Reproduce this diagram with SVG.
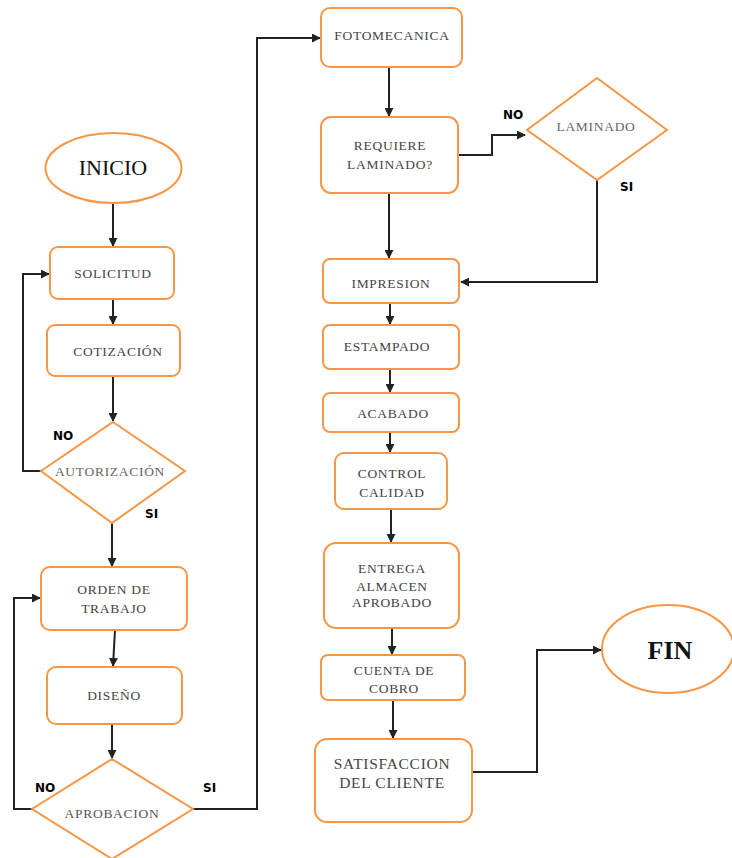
<svg xmlns="http://www.w3.org/2000/svg" width="732" height="858" viewBox="0 0 732 858">
<defs>
<marker id="ah" viewBox="0 0 10 10" refX="9" refY="5" markerWidth="4.5" markerHeight="4.5" orient="auto">
<path d="M0,0 L10,5 L0,10 z" fill="#222"/>
</marker>
<style>
.n{fill:#fff;stroke:#F79646;stroke-width:2}
.t{font-family:"Liberation Serif",serif;font-size:13.5px;letter-spacing:0.7px;fill:#444;text-anchor:middle}
.c{fill:none;stroke:#222;stroke-width:2;marker-end:url(#ah)}
.l{font-family:"DejaVu Sans",sans-serif;font-weight:bold;font-size:12px;fill:#000}
</style>
</defs>
<rect width="732" height="858" fill="#fff"/>
<g id="connectors">
<path class="c" d="M113,203 V246"/>
<path class="c" d="M113,299 V324"/>
<path class="c" d="M113,376 V421"/>
<path class="c" d="M41,471 H23 V274 H49"/>
<path class="c" d="M112,523 V566"/>
<path class="c" d="M115,630 L113,666"/>
<path class="c" d="M112,724 V758"/>
<path class="c" d="M32,809 H14 V598 H40"/>
<path class="c" d="M193,809 H257 V38 H320"/>
<path class="c" d="M389,67 V116"/>
<path class="c" d="M458,155 H492 V135 H525"/>
<path class="c" d="M389,193 V258"/>
<path class="c" d="M597,180 V282 H461"/>
<path class="c" d="M390,303 V324"/>
<path class="c" d="M390,369 V392"/>
<path class="c" d="M390,432 V452"/>
<path class="c" d="M391,509 V542"/>
<path class="c" d="M392,628 V654"/>
<path class="c" d="M393,700 V738"/>
<path class="c" d="M472,772 H537 V650 H601"/>
</g>
<g id="inicio"><ellipse class="n" cx="113.5" cy="168" rx="68" ry="35"/><text x="113" y="175" style="font-family:'Liberation Serif',serif;font-size:22px;fill:#111;text-anchor:middle">INICIO</text></g>
<g id="solicitud"><rect class="n" x="50" y="247" width="124" height="52" rx="8"/><text class="t" x="113" y="278">SOLICITUD</text></g>
<g id="cotizacion"><rect class="n" x="47" y="325" width="133" height="51" rx="8"/><text class="t" x="118" y="356">COTIZACIÓN</text></g>
<g id="autorizacion"><polygon class="n" points="113,422 185,471 112,523 41,471"/><text class="t" x="110" y="476" style="fill:#666">AUTORIZACIÓN</text></g>
<text class="l" x="53" y="440">NO</text>
<text class="l" x="145" y="518">SI</text>
<g id="orden"><rect class="n" x="41" y="567" width="146" height="63" rx="9"/><text class="t" x="114" y="594">ORDEN DE</text><text class="t" x="114" y="613">TRABAJO</text></g>
<g id="diseno"><rect class="n" x="47" y="667" width="135" height="57" rx="9"/><text class="t" x="114" y="700">DISEÑO</text></g>
<g id="aprobacion"><polygon class="n" points="112,759 193,809 112,859 32,809"/><text class="t" x="112" y="818" style="fill:#555">APROBACION</text></g>
<text class="l" x="35" y="792">NO</text>
<text class="l" x="203" y="792">SI</text>
<g id="fotomecanica"><rect class="n" x="321" y="8" width="141" height="59" rx="9"/><text class="t" x="392" y="40">FOTOMECANICA</text></g>
<g id="requiere"><rect class="n" x="321" y="117" width="137" height="76" rx="10"/><text class="t" x="390" y="150">REQUIERE</text><text class="t" x="390" y="169">LAMINADO?</text></g>
<g id="laminado"><polygon class="n" points="597,78 667,130 597,180 527,130"/><text class="t" x="596" y="131" style="fill:#666">LAMINADO</text></g>
<text class="l" x="503" y="119">NO</text>
<text class="l" x="620" y="191">SI</text>
<g id="impresion"><rect class="n" x="323" y="259" width="136" height="44" rx="7"/><text class="t" x="391" y="288">IMPRESION</text></g>
<g id="estampado"><rect class="n" x="323" y="325" width="136" height="44" rx="7"/><text class="t" x="387" y="351">ESTAMPADO</text></g>
<g id="acabado"><rect class="n" x="323" y="393" width="136" height="39" rx="7"/><text class="t" x="393" y="418">ACABADO</text></g>
<g id="control"><rect class="n" x="335" y="453" width="112" height="56" rx="9"/><text class="t" x="392" y="478">CONTROL</text><text class="t" x="392" y="497">CALIDAD</text></g>
<g id="entrega"><rect class="n" x="324" y="543" width="135" height="85" rx="12"/><text class="t" x="392" y="573">ENTREGA</text><text class="t" x="392" y="591">ALMACEN</text><text class="t" x="392" y="607">APROBADO</text></g>
<g id="cuenta"><rect class="n" x="321" y="655" width="144" height="45" rx="7"/><text class="t" x="394" y="675">CUENTA DE</text><text class="t" x="394" y="693">COBRO</text></g>
<g id="satisfaccion"><rect class="n" x="315" y="739" width="157" height="83" rx="12"/><text class="t" x="392" y="769" style="font-size:15.5px">SATISFACCION</text><text class="t" x="392" y="788" style="font-size:15.5px">DEL CLIENTE</text></g>
<g id="fin"><ellipse class="n" cx="668" cy="649" rx="66" ry="44"/><text x="670" y="659" style="font-family:'Liberation Serif',serif;font-size:26px;font-weight:bold;fill:#111;text-anchor:middle">FIN</text></g>
</svg>
